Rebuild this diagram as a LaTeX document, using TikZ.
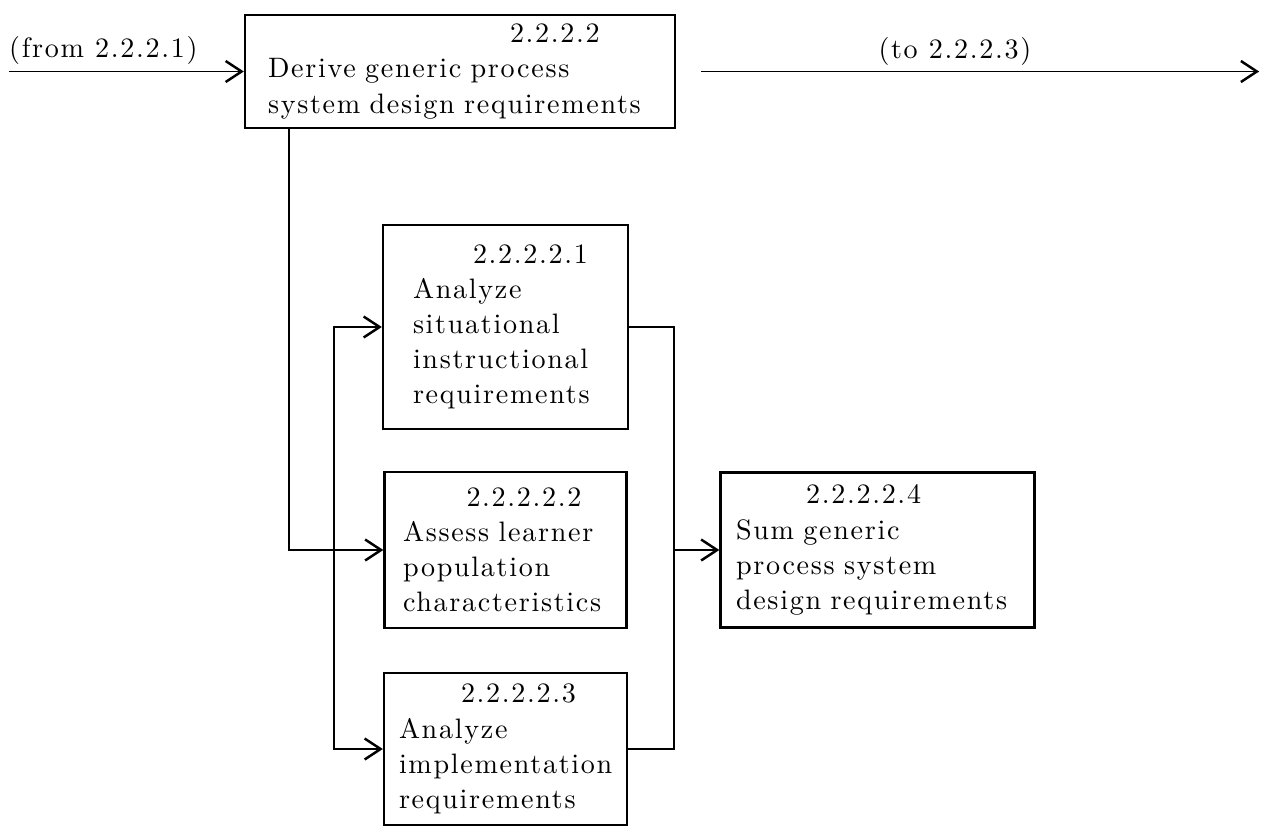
\documentclass[tikz,border=0pt]{standalone}
\usepackage{fontspec}
\usepackage{tikz}
\usetikzlibrary{arrows.meta,calc}

\newfontfamily\flowfam{lmroman10-regular}[Extension=.otf, LetterSpace=6]
\newcommand{\flowfont}{\flowfam\fontsize{16}{20}\selectfont}

\begin{document}
\begin{tikzpicture}
\tikzstyle{proc}=[rectangle, draw=black, line width=1.3pt, align=left, inner sep=0pt, font=\flowfont]
\tikzstyle{lbl}=[inner sep=0pt, font=\flowfont]
\tikzstyle{connect}=[-{Straight Barb[length=3.2mm, width=4.2mm, line width=1.4pt]}, line width=0.9pt]
\tikzstyle{connectboth}=[{Straight Barb[length=3.2mm, width=4.2mm, line width=1.4pt]}-{Straight Barb[length=3.2mm, width=4.2mm, line width=1.4pt]}, line width=0.9pt]
\tikzstyle{plain}=[line width=0.9pt]

  \useasboundingbox (0,0) rectangle (25.34,-16.56);

  \node[proc, text width=76.8mm, minimum width=86mm, minimum height=22.6mm] (deriv) at (9.2,-1.43)
    {\hspace*{48.4mm}2.2.2.2\\Derive generic process\\system design requirements};
  \node[proc, text width=37mm, minimum width=49mm, minimum height=40.8mm] (situ)
    [below of=deriv, node distance=51.1mm, xshift=9.1mm]
    {\hspace*{12mm}2.2.2.2.1\\Analyze\\situational\\instructional\\requirements};
  \node[proc, text width=41mm, minimum width=48.4mm, minimum height=31.2mm] (assess)
    [below of=situ, node distance=44.6mm]
    {\hspace*{12.7mm}2.2.2.2.2\\Assess learner\\population\\characteristics};
  \node[proc, text width=42.6mm, minimum width=48.6mm, minimum height=30.4mm] (impl)
    [below of=assess, node distance=39.8mm]
    {\hspace*{12.4mm}2.2.2.2.3\\Analyze\\implementation\\requirements};
  \node[proc, text width=56.6mm, minimum width=62.8mm, minimum height=31mm] (sum)
    [right of=assess, node distance=74.4mm]
    {\hspace*{14mm}2.2.2.2.4\\Sum generic\\process system\\design requirements};

  \coordinate (src)  at ([xshift=-47mm]deriv.west);
  \coordinate (outA) at ([xshift=5mm]deriv.east);
  \coordinate (outB) at ([xshift=116.6mm]deriv.east);
  \coordinate (drop) at ([xshift=9mm]deriv.south west);
  \coordinate (tap)  at ([xshift=9mm]situ.east);

  \node[lbl, anchor=base west] (fromlbl) at ([yshift=2.8mm]src) {(from 2.2.2.1)};
  \node[lbl, anchor=base west] (tolbl) at ([xshift=35.4mm, yshift=2.6mm]outA) {(to 2.2.2.3)};

  \path (src) edge [connect] (deriv.west)
        (outA) edge [connect] (outB)
        (tap |- sum.west) edge [connect] (sum.west);
  \draw[connect] (drop) |- (assess.west);
  \draw[connectboth] (situ.west) -- ++(-9.6mm,0) |- (impl.west);
  \draw[plain] (situ.east) -- (tap) |- (impl.east);

\end{tikzpicture}
\end{document}
